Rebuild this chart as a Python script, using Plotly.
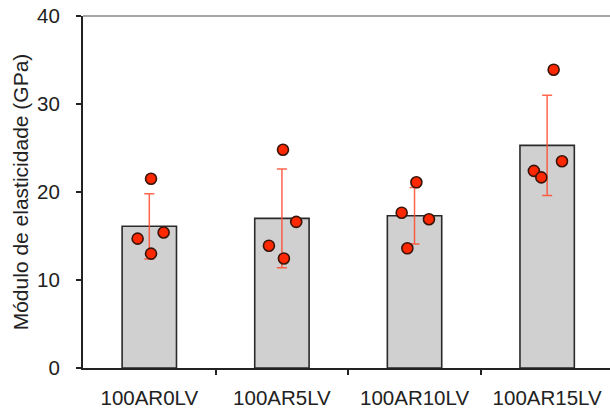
import plotly.graph_objects as go

categories = ["100AR0LV", "100AR5LV", "100AR10LV", "100AR15LV"]
means = [16.1, 17.0, 17.3, 25.3]
sd = [3.7, 5.6, 3.2, 5.7]
# individual specimen values (4 per group)
points = [
    [21.5, 14.7, 13.0, 15.4],
    [24.8, 13.9, 12.45, 16.6],
    [21.1, 17.65, 16.9, 13.6],
    [33.9, 22.4, 21.66, 23.5],
]
# horizontal jitter of each point within its group
jitter = [
    [0.013, -0.088, 0.013, 0.108],
    [0.008, -0.098, 0.015, 0.108],
    [0.014, -0.097, 0.109, -0.054],
    [0.049, -0.100, -0.044, 0.112],
]
y_ticks = [0, 10, 20, 30, 40]

idx = list(range(len(categories)))

fig = go.Figure()
fig.add_trace(go.Bar(
    x=idx, y=means, width=0.41,
    marker=dict(color="#d0d0d0", line=dict(color="#2a2a2a", width=1.6)),
    error_y=dict(type="data", array=sd, visible=True,
                 color="rgba(255,75,45,0.85)", thickness=1.5, width=5),
    showlegend=False,
))
px, py = [], []
for i, (vals, jit) in enumerate(zip(points, jitter)):
    for v, j in zip(vals, jit):
        px.append(i + j)
        py.append(v)
fig.add_trace(go.Scatter(
    x=px, y=py, mode="markers",
    marker=dict(size=11, color="#ff2800", line=dict(color="#3a1408", width=1.6)),
    showlegend=False,
))

tfont = dict(family="Liberation Sans, Arial, sans-serif", size=20.5, color="#222222")
ttfont = dict(family="Liberation Sans, Arial, sans-serif", size=21, color="#222222")
fig.update_layout(
    width=610, height=410,
    margin=dict(l=83, r=0, t=16, b=42),
    plot_bgcolor="white", paper_bgcolor="white",
    font=tfont,
    xaxis=dict(
        range=[-0.5, 3.474], tickvals=idx, ticktext=categories,
        ticks="", showgrid=False, zeroline=False,
        showline=True, linecolor="#222222", linewidth=2,
        minor=dict(tickvals=[0.5, 1.5, 2.5], ticks="outside", ticklen=5,
                   tickcolor="#222222", tickwidth=1.5, showgrid=False),
        tickfont=tfont, ticklabelstandoff=10,
    ),
    yaxis=dict(
        range=[0, 40], tickvals=y_ticks, ticks="outside", ticklen=5,
        tickcolor="#222222", tickwidth=1.5,
        showgrid=False, zeroline=False,
        showline=True, linecolor="#222222", linewidth=2,
        ticklabelstandoff=12,
        title=dict(text="Módulo de elasticidade (GPa)", font=ttfont, standoff=3),
        tickfont=tfont,
    ),
    shapes=[dict(type="line", xref="paper", yref="paper", x0=0, x1=1, y0=1, y1=1,
                 line=dict(color="#888888", width=1.5))],
)
fig.write_html("out.html")
